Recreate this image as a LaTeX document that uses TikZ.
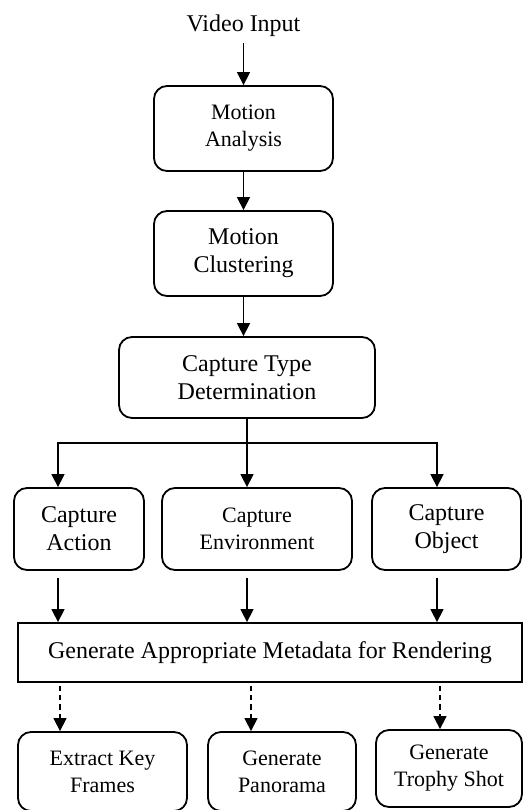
\documentclass[tikz,border=0pt]{standalone}
\usepackage{fontspec}
\setmainfont{Liberation Serif}
\usetikzlibrary{arrows.meta}

\tikzset{
  stepbox/.style={draw=black,line width=0.9pt,rounded corners=6.5pt,align=center,inner sep=2pt},
  flatbox/.style={draw=black,line width=0.9pt,align=center,inner sep=2pt},
  bigtext/.style={font=\fontsize{12}{14}\selectfont},
  smalltext/.style={font=\fontsize{11}{13.5}\selectfont},
  arr/.style={line width=0.7pt,-{Triangle[length=6.5pt,width=6.5pt]}},
  darr/.style={arr,dash pattern=on 2.6pt off 2pt},
}

\begin{document}
\begin{tikzpicture}[x=0.5pt,y=-0.5pt]
\useasboundingbox (0,0) rectangle (529,810);

\node[bigtext,anchor=base] (vin) at (243.5,31) {Video Input};
\node[stepbox,smalltext,minimum width=89.5pt,minimum height=42.5pt] (ma) at (243.5,128.5) {Motion\\Analysis};
\node[stepbox,bigtext,minimum width=89.5pt,minimum height=42.5pt] (mc) at (243.5,253.5) {Motion\\Clustering};
\node[stepbox,bigtext,minimum width=128pt,minimum height=40.5pt] (ctd) at (247,377.5) {Capture Type\\Determination};

\node[stepbox,bigtext,minimum width=65pt,minimum height=41pt] (ca) at (79,529) {Capture\\Action};
\node[stepbox,smalltext,minimum width=95pt,minimum height=41pt] (ce) at (257,529) {Capture\\Environment};
\node[stepbox,bigtext,minimum width=74.5pt,minimum height=41pt] (co) at (446.5,529) {Capture\\Object};

\node[flatbox,bigtext,minimum width=252pt,minimum height=29.5pt] (gen) at (270,652.5) {Generate Appropriate Metadata for Rendering};

\node[stepbox,smalltext,minimum width=84.5pt,minimum height=39.5pt] (ekf) at (102.5,771.5) {Extract Key\\Frames};
\node[stepbox,smalltext,minimum width=74pt,minimum height=39.5pt] (gp) at (282,771.5) {Generate\\Panorama};
\node[stepbox,smalltext,minimum width=73pt,minimum height=38.5pt] (gts) at (449,768.5) {Generate\\Trophy Shot};

% arrow columns
\coordinate (c1) at (58,443);
\coordinate (c2) at (247,443);
\coordinate (c3) at (437,443);
\coordinate (d1) at (60,700);
\coordinate (d2) at (251,700);
\coordinate (d3) at (440,700);

\draw[arr] (vin.south) -- (ma.north);
\draw[arr] (ma.south) -- (mc.north);
\draw[arr] (mc.south) -- (mc.south |- ctd.north);

% fork into the three capture types
\draw[arr] (ctd.south) -- (c2 |- ce.north);
\draw[arr] (c2) -| (c1 |- ca.north);
\draw[arr] (c2) -| (c3 |- co.north);

\draw[arr,shorten <=3.5pt] (c1 |- ca.south) -- (c1 |- gen.north);
\draw[arr,shorten <=3.5pt] (c2 |- ce.south) -- (c2 |- gen.north);
\draw[arr,shorten <=3.5pt] (c3 |- co.south) -- (c3 |- gen.north);

\draw[darr,shorten <=1.5pt] (d1 |- gen.south) -- (d1 |- ekf.north);
\draw[darr,shorten <=1.5pt] (d2 |- gen.south) -- (d2 |- gp.north);
\draw[darr,shorten <=1.5pt] (d3 |- gen.south) -- (d3 |- gts.north);

\end{tikzpicture}
\end{document}
